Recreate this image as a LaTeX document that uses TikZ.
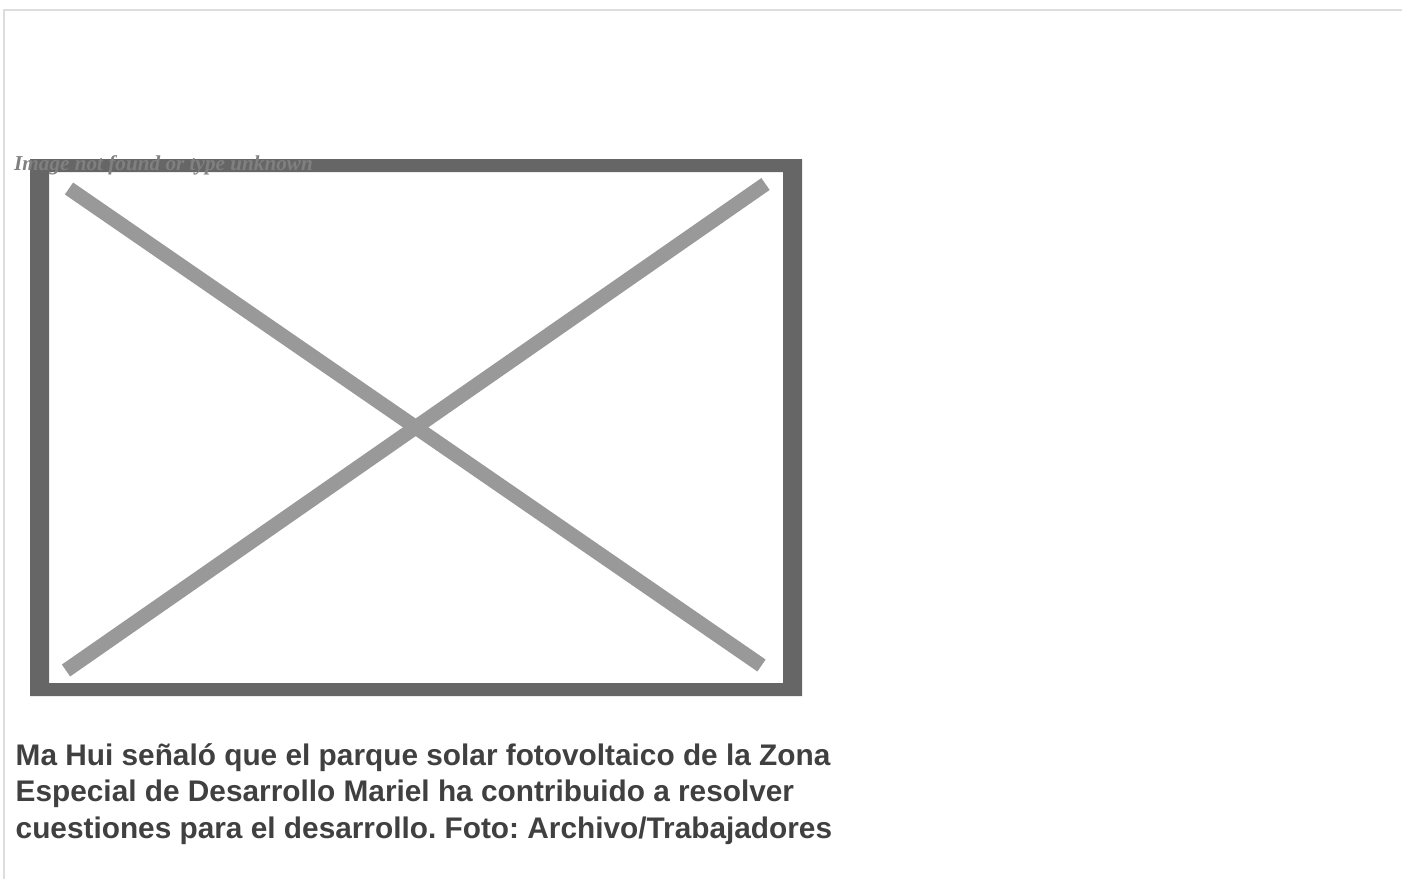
\documentclass[tikz,border=0pt]{standalone}
\usepackage{fontspec}
\setmainfont{Liberation Sans}
\newfontfamily\altserif{Liberation Serif}
\usetikzlibrary{calc}
\definecolor{pageline}{HTML}{DDDDDD}
\definecolor{framegray}{HTML}{666666}
\definecolor{crossgray}{HTML}{999999}
\definecolor{alttext}{HTML}{808080}
\definecolor{captiongray}{HTML}{404040}
\frenchspacing

\begin{document}
\begin{tikzpicture}[x=1pt, y=-1pt, line cap=butt, line join=miter]
		
		\useasboundingbox (0,0) rectangle (1402,879);
		
		%========================
		% page edge
		%========================
		\draw[pageline, line width=2pt] (4,879) -- (4,10) -- (1402,10);
		
		%========================
		% broken image box
		%========================
		\fill[framegray, even odd rule]
			(30,159) rectangle (802,696)
			(49,172) rectangle (783,683);
		
		% the cross
		\coordinate (tl) at (69,188.5);
		\coordinate (br) at (761.5,665.5);
		\coordinate (bl) at (66,670.5);
		\coordinate (tr) at (765.5,184);
		\draw[crossgray, line width=14.5pt] (tl) -- (br);
		\draw[crossgray, line width=14.5pt] (bl) -- (tr);
		
		% alt text over the frame
		\node[alttext, anchor=base west, inner sep=0pt,
			font=\altserif\bfseries\itshape\fontsize{21.2}{25}\selectfont]
			(alt) at (14,170.5) {Image not found or type unknown};
		
		%========================
		% caption (anchored on its last line)
		%========================
		\node[captiongray, anchor=base west, inner sep=0pt, align=left,
			font=\bfseries\fontsize{29.8}{36.5}\selectfont]
			(caption) at (15.5,838)
			{Ma Hui señaló que el parque solar fotovoltaico de la Zona\\
			 Especial de Desarrollo Mariel ha contribuido a resolver\\
			 cuestiones para el desarrollo. Foto: Archivo/Trabajadores};
		
	\end{tikzpicture}
\end{document}
